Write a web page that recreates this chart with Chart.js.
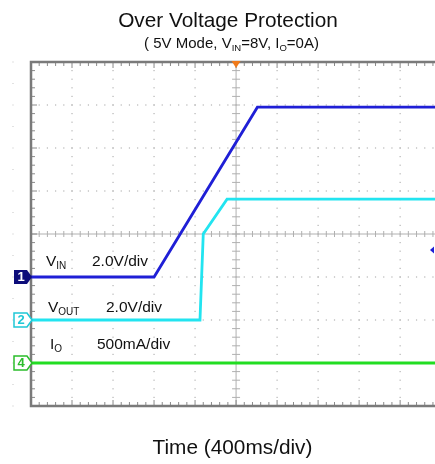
<!DOCTYPE html>
<html>
<head>
<meta charset="utf-8">
<script src="https://cdn.jsdelivr.net/npm/chart.js@4.4.1/dist/chart.umd.min.js"></script>
<style>
  html, body { margin: 0; padding: 0; background: #fff; overflow: hidden; }
  #wrap { position: relative; width: 435px; height: 464px; font-family: "Liberation Sans", Arial, sans-serif; color: #111; }
  #wrap canvas { position: absolute; left: 0; top: 0; }
  .txt { position: absolute; white-space: nowrap; line-height: 1; }
  .title { left: 0; width: 456px; text-align: center; top: 10px; font-size: 20.8px; }
  .sub { left: 0; width: 463px; text-align: center; top: 35px; font-size: 15px; }
  .xlab { left: 0; width: 465px; text-align: center; top: 437px; font-size: 20.8px; }
  .lbl { font-size: 15.5px; }
  sub { font-size: 10px; vertical-align: -3px; line-height: 0; }
  .sub sub { font-size: 9.5px; vertical-align: -3px; }
</style>
</head>
<body>
<div id="wrap">
  <canvas id="scope" width="435" height="464"></canvas>
  <div class="txt title">Over Voltage Protection</div>
  <div class="txt sub">( 5V Mode, V<sub>IN</sub>=8V, I<sub>O</sub>=0A)</div>
  <div class="txt lbl" style="left:46px; top:253px;">V<sub>IN</sub></div>
  <div class="txt lbl" style="left:92px; top:253px;">2.0V/div</div>
  <div class="txt lbl" style="left:48px; top:299px;">V<sub>OUT</sub></div>
  <div class="txt lbl" style="left:106px; top:299px;">2.0V/div</div>
  <div class="txt lbl" style="left:50px; top:336px;">I<sub>O</sub></div>
  <div class="txt lbl" style="left:97px; top:336px;">500mA/div</div>
  <div class="txt xlab">Time (400ms/div)</div>
</div>
<script>
// positions in screen divisions (x: 0..10 across, y: 0..8 up)
const vinX = [0, 3.0, 5.52, 9.85];
const vinY = [3.0, 3.0, 6.95, 6.95];
const voutX = [0, 4.12, 4.2, 4.78, 9.85];
const voutY = [2.0, 2.0, 4.0, 4.81, 4.81];
const ioX = [0, 9.85];
const ioY = [1.0, 1.0];

// channel ground markers and trigger level
const channels = [
    { name: '1', level: 3, color: '#0d0d7a', fill: true },
    { name: '2', level: 2, color: '#1fc8d6', fill: false },
    { name: '4', level: 1, color: '#2bbd2b', fill: false }
];
const triggerTime = 5;
const triggerLevel = 3.63;

function toPoints(xs, ys) {
    return xs.map((x, i) => ({ x: x, y: ys[i] }));
}

const graticule = {
    id: 'graticule',
    beforeDatasetsDraw(chart) {
        const ctx = chart.ctx;
        const xs = chart.scales.x, ys = chart.scales.y;
        const area = chart.chartArea;
        ctx.save();
        // dotted grid
        ctx.fillStyle = '#b4b4b4';
        for (let i = 1; i <= 9; i++) {
            if (i === 5) continue;
            const px = xs.getPixelForValue(i);
            for (let k = 1; k < 40; k++) {
                const py = ys.getPixelForValue(k / 5);
                ctx.fillRect(px - 0.6, py - 0.6, 1.2, 1.2);
            }
        }
        for (let j = 1; j <= 7; j++) {
            if (j === 4) continue;
            const py = ys.getPixelForValue(j);
            for (let k = 1; k < 50; k++) {
                const px = xs.getPixelForValue(k / 5);
                if (px > area.right) break;
                ctx.fillRect(px - 0.6, py - 0.6, 1.2, 1.2);
            }
        }
        // centre crosshair with ticks
        ctx.strokeStyle = '#b0b0b0';
        ctx.lineWidth = 1;
        const cx = xs.getPixelForValue(5), cy = ys.getPixelForValue(4);
        ctx.beginPath();
        ctx.moveTo(area.left, cy); ctx.lineTo(area.right, cy);
        ctx.moveTo(cx, area.top); ctx.lineTo(cx, area.bottom);
        for (let k = 1; k < 50; k++) {
            const px = xs.getPixelForValue(k / 5);
            if (px > area.right) break;
            ctx.moveTo(px, cy - 3); ctx.lineTo(px, cy + 3);
        }
        for (let k = 1; k < 40; k++) {
            const py = ys.getPixelForValue(k / 5);
            ctx.moveTo(cx - 4, py); ctx.lineTo(cx + 4, py);
        }
        ctx.stroke();
        // border ticks
        ctx.strokeStyle = '#8a8a8a';
        ctx.beginPath();
        for (let k = 1; k < 50; k++) {
            const px = xs.getPixelForValue(k / 5);
            if (px > area.right) break;
            const len = (k % 5 === 0) ? 6 : 4;
            ctx.moveTo(px, area.top); ctx.lineTo(px, area.top + len);
            ctx.moveTo(px, area.bottom); ctx.lineTo(px, area.bottom - len);
        }
        for (let k = 1; k < 40; k++) {
            const py = ys.getPixelForValue(k / 5);
            const len = (k % 5 === 0) ? 6 : 4;
            ctx.moveTo(area.left, py); ctx.lineTo(area.left + len, py);
        }
        ctx.stroke();
        // frame
        ctx.strokeStyle = '#7a7a7a';
        ctx.lineWidth = 2.5;
        ctx.beginPath();
        ctx.moveTo(area.right + 2, area.top); ctx.lineTo(area.left, area.top);
        ctx.lineTo(area.left, area.bottom); ctx.lineTo(area.right + 2, area.bottom);
        ctx.stroke();
        // faint dots outside on the left
        ctx.fillStyle = '#c4c4c4';
        for (let k = 0; k <= 16; k++) {
            const py = ys.getPixelForValue(k / 2);
            ctx.fillRect(12.5, py - 0.5, 1, 1);
        }
        ctx.restore();
    },
    afterDatasetsDraw(chart) {
        const ctx = chart.ctx;
        const xs = chart.scales.x, ys = chart.scales.y;
        const area = chart.chartArea;
        ctx.save();
        // trigger time marker
        const tx = xs.getPixelForValue(triggerTime);
        ctx.fillStyle = '#f07a1a';
        ctx.beginPath();
        ctx.moveTo(tx - 4.5, area.top - 1); ctx.lineTo(tx + 4.5, area.top - 1); ctx.lineTo(tx, area.top + 6);
        ctx.closePath(); ctx.fill();
        // trigger level marker
        const ty = ys.getPixelForValue(triggerLevel);
        ctx.fillStyle = '#1f1fd6';
        ctx.beginPath();
        ctx.moveTo(area.right - 5, ty); ctx.lineTo(area.right - 1, ty - 3.5); ctx.lineTo(area.right - 1, ty + 3.5);
        ctx.closePath(); ctx.fill();
        // channel markers
        ctx.font = 'bold 13px "Liberation Sans", Arial, sans-serif';
        ctx.textAlign = 'center';
        ctx.textBaseline = 'middle';
        channels.forEach(ch => {
            const py = ys.getPixelForValue(ch.level);
            ctx.beginPath();
            ctx.moveTo(14, py - 7); ctx.lineTo(27, py - 7); ctx.lineTo(32, py);
            ctx.lineTo(27, py + 7); ctx.lineTo(14, py + 7); ctx.closePath();
            if (ch.fill) {
                ctx.fillStyle = ch.color; ctx.fill();
                ctx.fillStyle = '#ffffff';
            } else {
                ctx.fillStyle = '#ffffff'; ctx.fill();
                ctx.strokeStyle = ch.color; ctx.lineWidth = 1.5; ctx.stroke();
                ctx.fillStyle = ch.color;
            }
            ctx.fillText(ch.name, 21, py + 0.5);
        });
        ctx.restore();
    }
};

const lineStyle = { showLine: true, pointRadius: 0, borderWidth: 2.8, tension: 0, fill: false };

new Chart(document.getElementById('scope').getContext('2d'), {
    type: 'scatter',
    data: {
        datasets: [
            Object.assign({ label: 'IO', data: toPoints(ioX, ioY), borderColor: '#22dd22' }, lineStyle),
            Object.assign({ label: 'VOUT', data: toPoints(voutX, voutY), borderColor: '#22e4f0' }, lineStyle),
            Object.assign({ label: 'VIN', data: toPoints(vinX, vinY), borderColor: '#1f1fd6' }, lineStyle)
        ]
    },
    options: {
        responsive: false,
        animation: false,
        layout: { padding: { left: 31, top: 62, right: 0, bottom: 58 } },
        scales: {
            x: { type: 'linear', display: false, min: 0, max: 9.85 },
            y: { type: 'linear', display: false, min: 0, max: 8 }
        },
        plugins: {
            legend: { display: false },
            tooltip: { enabled: false }
        }
    },
    plugins: [graticule]
});
</script>
</body>
</html>
